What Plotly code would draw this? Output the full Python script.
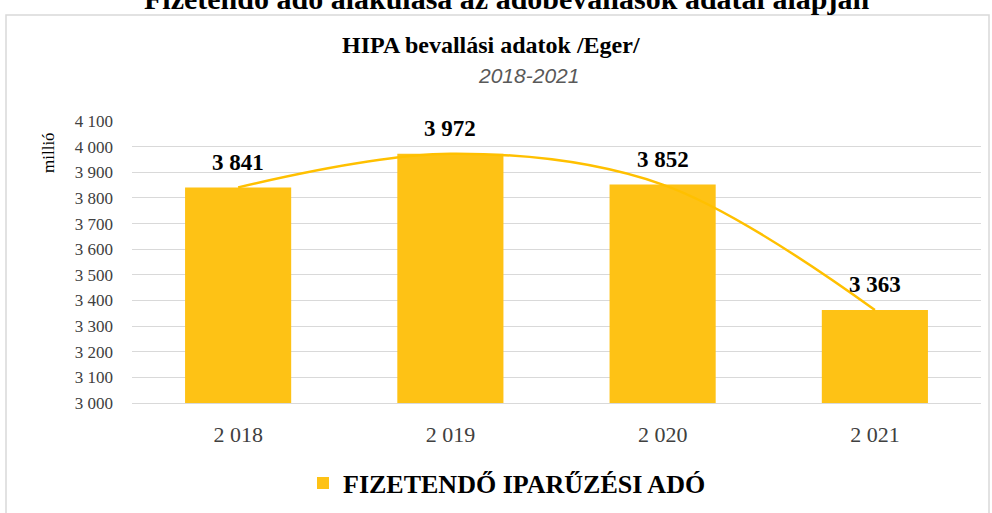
import plotly.graph_objects as go

years = ["2 018", "2 019", "2 020", "2 021"]
values = [3841, 3972, 3852, 3363]
value_labels = ["3 841", "3 972", "3 852", "3 363"]
tick_vals = [3000, 3100, 3200, 3300, 3400, 3500, 3600, 3700, 3800, 3900, 4000, 4100]
tick_text = ["3 000", "3 100", "3 200", "3 300", "3 400", "3 500", "3 600",
             "3 700", "3 800", "3 900", "4 000", "4 100"]
series_name = "FIZETENDŐ IPARŰZÉSI ADÓ"

SERIF = "Liberation Serif, Times New Roman, serif"
SANS = "Liberation Sans, Arial, sans-serif"

# plot area in pixels
L, R, T, B = 132, 981, 121, 403
W, H = R - L, B - T


def px(x):
    return (x - L) / W


def py(y):
    return (B - y) / H


fig = go.Figure()
fig.add_trace(go.Bar(
    x=years, y=values, name="<b>" + series_name + "</b>",
    marker=dict(color="#FEC215", line=dict(width=0)),
    showlegend=True,
))
fig.add_trace(go.Scatter(
    x=years, y=values, mode="lines",
    line=dict(color="#FFC000", width=2.5, shape="spline", smoothing=1.0),
    showlegend=False, hoverinfo="skip",
))

for yr, v, lab in zip(years, values, value_labels):
    fig.add_annotation(x=yr, y=v, text=f"<b>{lab}</b>", showarrow=False,
                       yanchor="middle", yshift=25,
                       font=dict(family=SERIF, size=23, color="#000000"))

# titles
fig.add_annotation(xref="paper", yref="paper", x=px(491), y=py(45),
                   text="<b>HIPA bevallási adatok /Eger/</b>", showarrow=False,
                   xanchor="center", yanchor="middle",
                   font=dict(family=SERIF, size=24, color="#000000"))
fig.add_annotation(xref="paper", yref="paper", x=px(528), y=py(75),
                   text="<i>2018-2021</i>", showarrow=False,
                   xanchor="center", yanchor="middle",
                   font=dict(family=SANS, size=21, color="#595959"))
fig.add_annotation(xref="paper", yref="paper", x=px(506), y=py(-2),
                   text="<b>Fizetendő adó alakulása az adóbevallások adatai alapján</b>", showarrow=False,
                   xanchor="center", yanchor="middle",
                   font=dict(family=SERIF, size=30, color="#000000"))
fig.add_annotation(xref="paper", yref="paper", x=px(48), y=py(153),
                   text="millió", showarrow=False, textangle=-90,
                   xanchor="center", yanchor="middle",
                   font=dict(family=SERIF, size=17, color="#000000"))

# outer frame
fig.add_shape(type="rect", xref="paper", yref="paper",
              x0=px(6), x1=px(989), y0=py(530), y1=py(15),
              line=dict(color="#D9D9D9", width=1.5), fillcolor="rgba(0,0,0,0)", layer="below")

fig.update_layout(
    width=992, height=513,
    margin=dict(l=L, r=992 - R, t=T, b=513 - B),
    paper_bgcolor="white", plot_bgcolor="white",
    bargap=0.5,
    font=dict(family=SERIF, color="#404040"),
    legend=dict(orientation="h", xref="container", yref="container",
                x=507 / 992, y=1 - 483 / 513, xanchor="center", yanchor="middle",
                font=dict(family=SERIF, size=26, color="#000000"),
                itemwidth=30, traceorder="normal"),
    xaxis=dict(showgrid=False, showline=True, linecolor="#D9D9D9", linewidth=1,
               ticks="", tickfont=dict(family=SERIF, size=22, color="#404040"),
               ticklabelstandoff=12),
    yaxis=dict(range=[3000, 4100], tickvals=tick_vals, ticktext=tick_text,
               showgrid=True, gridcolor="#D9D9D9", gridwidth=1, zeroline=False,
               showline=False, ticks="",
               tickfont=dict(family=SERIF, size=17, color="#404040"),
               ticklabelstandoff=18),
)

fig.write_html("out.html", config={"displayModeBar": False},
               post_script="document.body.style.margin='0';document.body.style.overflow='hidden';")
